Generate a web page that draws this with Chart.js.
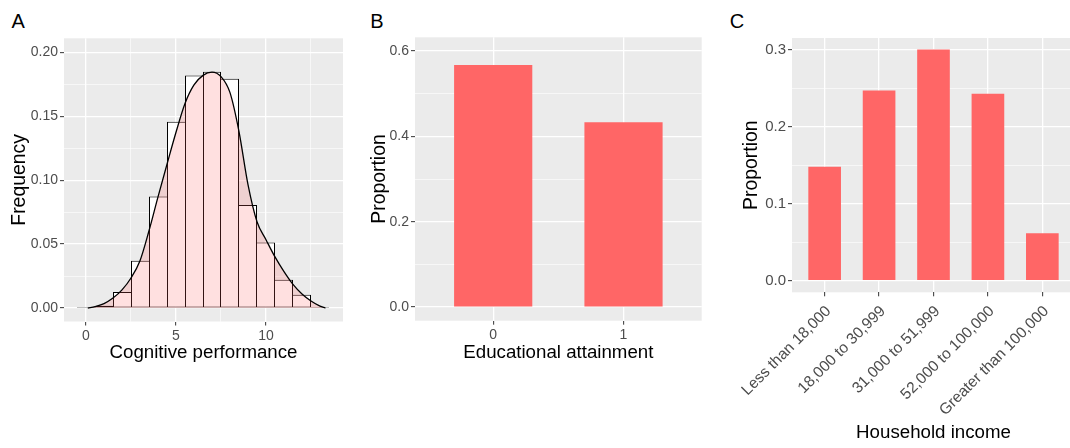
<!DOCTYPE html>
<html>
<head>
<meta charset="utf-8">
<script src="https://cdn.jsdelivr.net/npm/chart.js@4.4.1/dist/chart.umd.min.js"></script>
<style>
  html, body { margin: 0; padding: 0; background: #ffffff; width: 1070px; height: 448px; overflow: hidden; }
  canvas { position: absolute; top: 0; }
  .tag { position: absolute; top: 11px; font: 20px/20px "Liberation Sans", Arial, sans-serif; color: #000; }
</style>
</head>
<body>
<div class="tag" style="left:11.5px">A</div>
<div class="tag" style="left:370.2px">B</div>
<div class="tag" style="left:729.7px">C</div>
<canvas id="panelA" width="355" height="448" style="left:0px"></canvas>
<canvas id="panelB" width="350" height="448" style="left:360px"></canvas>
<canvas id="panelC" width="358" height="448" style="left:732px"></canvas>
<script>
// ---- Panel A: cognitive performance histogram (density scale) ----
const scoreBins = [0, 1, 2, 3, 4, 5, 6, 7, 8, 9, 10, 11, 12, 13];
const scoreDensity = [0.0008, 0.0018, 0.0125, 0.037, 0.0872, 0.1458, 0.182, 0.1849, 0.1794, 0.0807, 0.0513, 0.0221, 0.0104, 0.0008];
// kernel density estimate of the same scores
const kdeX = [0.1, 0.5, 1.0, 1.5, 2.0, 2.5, 3.0, 3.5, 4.0, 4.5, 5.0, 5.5, 6.0, 6.5, 7.0, 7.5, 8.0, 8.5, 9.0, 9.5, 10.0, 10.5, 11.0, 11.5, 12.0, 12.5, 13.0, 13.3];
const kdeY = [0.0, 0.0012, 0.0035, 0.0078, 0.0142, 0.0235, 0.037, 0.0605, 0.087, 0.1125, 0.1375, 0.160, 0.1745, 0.182, 0.1845, 0.181, 0.1685, 0.138, 0.0965, 0.0675, 0.0535, 0.040, 0.0285, 0.0185, 0.011, 0.0055, 0.0015, 0.0];
const scoreMajorX = [0, 5, 10];
const scoreMinorX = [2.5, 7.5, 12.5];
const freqMajorY = [0, 0.05, 0.10, 0.15, 0.20];
const freqMinorY = [0.025, 0.075, 0.125, 0.175];

// ---- Panel B: educational attainment ----
const eduCategories = ['0', '1'];
const eduProportion = [0.567, 0.433];
const eduMajorY = [0, 0.2, 0.4, 0.6];
const eduMinorY = [0.1, 0.3, 0.5];

// ---- Panel C: household income ----
const incomeCategories = ['Less than 18,000', '18,000 to 30,999', '31,000 to 51,999', '52,000 to 100,000', 'Greater than 100,000'];
const incomeProportion = [0.148, 0.247, 0.300, 0.2425, 0.0615];
const incomeMajorY = [0, 0.1, 0.2, 0.3];
const incomeMinorY = [0.05, 0.15, 0.25];

const FONT = '"Liberation Sans", Arial, sans-serif';
const PANEL_BG = '#EBEBEB';
const TICK_TEXT = '#4D4D4D';
const BAR_RED = '#FF6666';
const X_TITLE_SIZE = 18.7;
const Y_TITLE_SIZE = 19.4;

const panelBackground = {
  id: 'panelBackground',
  beforeDraw(chart) {
    const a = chart.chartArea, c = chart.ctx;
    c.save();
    c.fillStyle = PANEL_BG;
    c.fillRect(a.left, a.top, a.right - a.left, a.bottom - a.top);
    c.restore();
  }
};

function isIn(list, v) { return list.some(m => Math.abs(m - v) < 1e-9); }

// axis with white major/minor grid lines, tick marks and labels only on majors
function gridAxis(majors, minors, labelFn, fontSize, extra) {
  const all = majors.concat(minors).sort((a, b) => a - b);
  return Object.assign({
    type: 'linear',
    offset: false,
    afterBuildTicks: s => { s.ticks = all.map(v => ({ value: v })); },
    border: { display: false },
    grid: {
      offset: false,
      color: '#FFFFFF',
      lineWidth: ctx => (ctx.tick && isIn(majors, ctx.tick.value)) ? 1.3 : 0.6,
      tickColor: ctx => (ctx.tick && isIn(majors, ctx.tick.value)) ? '#333333' : 'rgba(0,0,0,0)',
      tickLength: 4,
      tickWidth: 1
    },
    ticks: {
      autoSkip: false,
      maxRotation: 0,
      minRotation: 0,
      color: TICK_TEXT,
      font: { family: FONT, size: fontSize },
      padding: 2,
      callback: v => isIn(majors, v) ? labelFn(v) : ''
    }
  }, extra || {});
}

function axisTitle(text, size, pad) {
  return { display: true, text, color: '#000000', font: { family: FONT, size }, padding: pad };
}

const commonOpts = {
  responsive: false,
  animation: false,
  events: [],
  plugins: { legend: { display: false }, tooltip: { enabled: false } }
};

// each shared bin edge is outlined once, by the taller of the two neighbouring bins
function binOutline(ctx) {
  const i = ctx.dataIndex, h = scoreDensity;
  const prev = i > 0 ? h[i - 1] : 0;
  const next = i < h.length - 1 ? h[i + 1] : 0;
  return { top: 1, bottom: 1, left: h[i] >= prev ? 1 : 0, right: h[i] > next ? 1 : 0 };
}

// Panel A
new Chart(document.getElementById('panelA'), {
  type: 'bar',
  data: {
    datasets: [
      {
        type: 'line',
        order: 0,
        data: kdeX.map((x, i) => ({ x, y: kdeY[i] })),
        borderColor: '#000000',
        borderWidth: 1.3,
        backgroundColor: 'rgba(255,102,102,0.2)',
        fill: 'origin',
        pointRadius: 0,
        cubicInterpolationMode: 'monotone'
      },
      {
        type: 'bar',
        order: 1,
        data: scoreBins.map((x, i) => ({ x, y: scoreDensity[i] })),
        backgroundColor: '#FFFFFF',
        borderColor: '#000000',
        borderWidth: binOutline,
        borderSkipped: false,
        inflateAmount: 0,
        categoryPercentage: 1,
        barPercentage: 1
      }
    ]
  },
  options: Object.assign({}, commonOpts, {
    layout: { padding: { left: 0, top: 38.3, right: 12, bottom: 84.3 } },
    scales: {
      x: gridAxis(scoreMajorX, scoreMinorX, v => String(v), 14, {
        min: -1.2222, max: 14.2778,
        title: axisTitle('Cognitive performance', X_TITLE_SIZE, { top: 0, bottom: 0 }),
        afterFit: s => { s.height = 42.2; }
      }),
      y: gridAxis(freqMajorY, freqMinorY, v => v.toFixed(2), 14, {
        min: -0.0105, max: 0.211,
        title: axisTitle('Frequency', Y_TITLE_SIZE, { top: 8.5, bottom: 0 }),
        afterFit: s => { s.width = 64; }
      })
    }
  }),
  plugins: [panelBackground]
});

// Panel B
new Chart(document.getElementById('panelB'), {
  type: 'bar',
  data: {
    datasets: [{
      data: eduProportion.map((y, i) => ({ x: i + 1, y })),
      backgroundColor: BAR_RED,
      borderWidth: 0,
      categoryPercentage: 1,
      barPercentage: 0.6
    }]
  },
  options: Object.assign({}, commonOpts, {
    layout: { padding: { left: 0, top: 37.3, right: 8.3, bottom: 84.3 } },
    scales: {
      x: gridAxis([1, 2], [], v => eduCategories[Math.round(v) - 1], 14, {
        min: 0.4, max: 2.6,
        title: axisTitle('Educational attainment', X_TITLE_SIZE, { top: 0, bottom: 0 }),
        afterFit: s => { s.height = 43.0; }
      }),
      y: gridAxis(eduMajorY, eduMinorY, v => v.toFixed(1), 14, {
        min: -0.032, max: 0.632,
        title: axisTitle('Proportion', Y_TITLE_SIZE, { top: 8.5, bottom: 0 }),
        afterFit: s => { s.width = 55; }
      })
    }
  }),
  plugins: [panelBackground]
});

// Panel C: category labels slanted at 45 degrees, right end under each tick
const slantedLabels = {
  id: 'slantedLabels',
  afterDraw(chart) {
    const sx = chart.scales.x, c = chart.ctx;
    c.save();
    c.fillStyle = TICK_TEXT;
    c.font = '15.5px ' + FONT;
    c.textAlign = 'right';
    c.textBaseline = 'middle';
    incomeCategories.forEach((label, i) => {
      const px = sx.getPixelForValue(i + 1);
      c.save();
      c.translate(px + 4, sx.top + 16.5);
      c.rotate(-Math.PI / 4);
      c.fillText(label, 0, 0);
      c.restore();
    });
    c.restore();
  }
};

const incomeX = gridAxis([1, 2, 3, 4, 5], [], v => incomeCategories[Math.round(v) - 1], 15.5, {
  min: 0.4, max: 5.6,
  title: axisTitle('Household income', X_TITLE_SIZE, { top: 0, bottom: 0 }),
  afterFit: s => { s.height = 151.7; }
});
incomeX.ticks.display = false;
const incomeY = gridAxis(incomeMajorY, incomeMinorY, v => v.toFixed(1), 15, {
  min: -0.015, max: 0.315,
  title: axisTitle('Proportion', Y_TITLE_SIZE, { top: 8.5, bottom: 0 }),
  afterFit: s => { s.width = 60; }
});

new Chart(document.getElementById('panelC'), {
  type: 'bar',
  data: {
    datasets: [{
      data: incomeProportion.map((y, i) => ({ x: i + 1, y })),
      backgroundColor: BAR_RED,
      borderWidth: 0,
      categoryPercentage: 1,
      barPercentage: 0.6
    }]
  },
  options: Object.assign({}, commonOpts, {
    layout: { padding: { left: 0, top: 38, right: 15, bottom: 4.0 } },
    scales: { x: incomeX, y: incomeY }
  }),
  plugins: [panelBackground, slantedLabels]
});
</script>
</body>
</html>
